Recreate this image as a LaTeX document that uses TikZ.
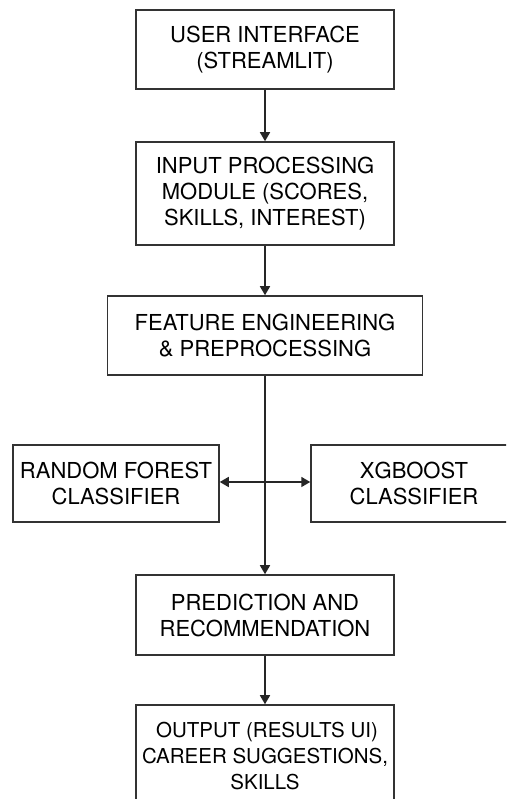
\documentclass[tikz,border=0pt]{standalone}
\usepackage{fontspec}
\setmainfont{TeX Gyre Heros}
\usetikzlibrary{arrows.meta}

\begin{document}
\begin{tikzpicture}[
    x=1pt, y=1pt,
    box/.style={
      draw=black!80,
      line width=1.5pt,
      fill=white,
      inner sep=0pt,
      align=center,
      font=\fontsize{22}{26}\selectfont
    },
    flow/.style={
      line width=1.6pt,
      black!85,
      -{Triangle[length=9pt,width=10pt]}
    }
  ]
  \clip (0, 0) rectangle (506, 799);
  \fill[white] (0, 0) rectangle (506, 799);

  \node[
    box,
    minimum width=258pt,
    minimum height=79pt
  ] (ui) at (265, 749.5) {USER INTERFACE\\(STREAMLIT)};

  \node[
    box,
    minimum width=258pt,
    minimum height=103pt
  ] (input) at (265, 605.5) {INPUT PROCESSING\\MODULE (SCORES,\\SKILLS, INTEREST)};

  \node[
    box,
    minimum width=315pt,
    minimum height=79pt
  ] (feat) at (265, 463.5) {FEATURE ENGINEERING\\\& PREPROCESSING};

  \node[
    box,
    minimum width=206pt,
    minimum height=77pt
  ] (rf) at (116, 315.5) {RANDOM FOREST\\CLASSIFIER};

  \node[
    box,
    minimum width=206pt,
    minimum height=77pt
  ] (xgb) at (414, 315.5) {XGBOOST\\CLASSIFIER};

  \node[
    box,
    minimum width=258pt,
    minimum height=80pt
  ] (pred) at (265, 184) {PREDICTION AND\\RECOMMENDATION};

  \node[
    box,
    minimum width=258pt,
    minimum height=103pt,
    font=\fontsize{20.5}{26}\selectfont
  ] (out) at (265, 42.5) {\hspace*{4pt}OUTPUT (RESULTS UI)\\CAREER SUGGESTIONS,\\SKILLS};

  \draw[flow] (ui) -- (input);
  \draw[flow] (input) -- (feat);
  \draw[flow] (feat) -- (pred);
  \draw[flow, {Triangle[length=9pt,width=10pt]}-{Triangle[length=9pt,width=10pt]}]
    ([yshift=1.5pt]rf.east) -- ([yshift=1.5pt]xgb.west);
  \draw[flow] (pred) -- (out);

\end{tikzpicture}
\end{document}
